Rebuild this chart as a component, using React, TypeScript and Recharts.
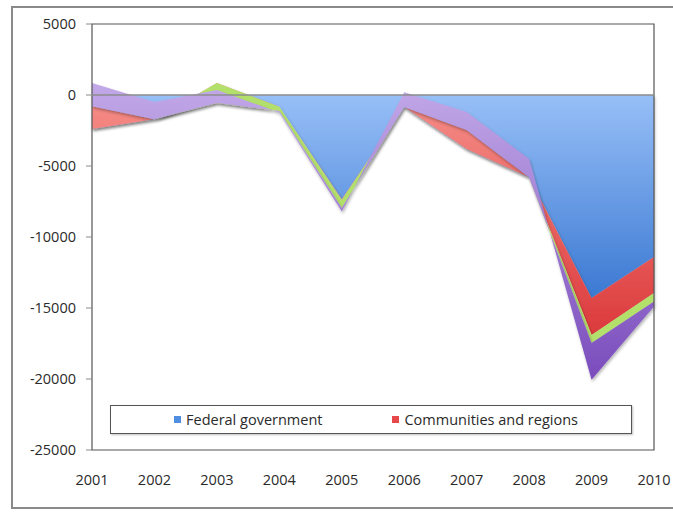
import { Area, AreaChart, ReferenceArea, ReferenceLine, XAxis, YAxis } from "recharts";

const YEARS = ["2001", "2002", "2003", "2004", "2005", "2006", "2007", "2008", "2009", "2010"];
// stacked Excel-style (cumulative, mixed signs)
const FEDERAL = [-2400, -1700, -100, -830, -7350, -850, -3800, -5800, -14300, -11400];
const COMMUNITIES = [1600, 0, 940, 0, -50, 0, 1340, 0, -2600, -2550];
const LOCAL = [0, 0, -1400, -300, -550, 0, 0, 0, -560, -600];
const SOCIAL = [1650, 1210, 910, -100, -250, 1050, 1260, 1300, -2600, -350];
const Y_TICKS = [-25000, -20000, -15000, -10000, -5000, 0, 5000];
const LEGEND_LABELS = ["Federal government", "Communities and regions"];
const LEGEND_COLORS = ["#4f8ee0", "#e8474c"];

const data = YEARS.map((year, i) => ({
  year,
  federal: FEDERAL[i],
  communities: COMMUNITIES[i],
  local: LOCAL[i],
  social: SOCIAL[i],
}));

const FONT = "'Open Sans', 'Liberation Sans', sans-serif";
const TEXT = "#2a2a2a";

export default function App() {
  return (
    <div
      style={{
        position: "absolute",
        left: 0,
        top: 0,
        width: 673,
        height: 512,
        overflow: "hidden",
        background: "#fff",
        fontFamily: FONT,
      }}
    >
      <div
        style={{
          position: "absolute",
          left: 11,
          top: 6,
          width: 700,
          height: 499,
          border: "2px solid #8a8a8a",
        }}
      />
      <AreaChart
        width={673}
        height={512}
        data={data}
        margin={{ top: 24, right: 19, bottom: 0, left: 0 }}
        style={{ position: "absolute", left: 0, top: 0 }}
      >
        <defs>
          <linearGradient id="gBlue" x1="0" y1="0" x2="0" y2="1">
            <stop offset="0%" stopColor="#97bff7" />
            <stop offset="100%" stopColor="#3b79d2" />
          </linearGradient>
          <linearGradient id="gRed" x1="0" y1="0" x2="0" y2="1">
            <stop offset="0%" stopColor="#f7928c" />
            <stop offset="100%" stopColor="#dc3a3c" />
          </linearGradient>
          <linearGradient id="gPurple" x1="0" y1="0" x2="0" y2="1">
            <stop offset="0%" stopColor="#c2a9e8" />
            <stop offset="100%" stopColor="#7a4cbc" />
          </linearGradient>
          <filter id="shadow" x="-10%" y="-10%" width="120%" height="130%">
            <feDropShadow dx="1" dy="2" stdDeviation="1.5" floodColor="#000" floodOpacity="0.3" />
          </filter>
        </defs>
        <XAxis
          dataKey="year"
          height={62}
          tickSize={0}
          tickMargin={25}
          axisLine={false}
          tickLine={false}
          interval={0}
          tick={{ fill: TEXT, fontSize: 14.5, fontFamily: FONT }}
        />
        <YAxis
          width={92}
          domain={[-25000, 5000]}
          ticks={Y_TICKS}
          allowDataOverflow
          axisLine={false}
          tickSize={6}
          tickMargin={10}
          tickLine={{ stroke: "#8a8a8a" }}
          tick={{ fill: TEXT, fontSize: 14.5, fontFamily: FONT }}
        />
        <Area
          type="linear"
          dataKey="federal"
          stackId="a"
          stroke="none"
          fill="url(#gBlue)"
          fillOpacity={1}
          filter="url(#shadow)"
          isAnimationActive={false}
          activeDot={false}
        />
        <Area
          type="linear"
          dataKey="communities"
          stackId="a"
          stroke="none"
          fill="url(#gRed)"
          fillOpacity={1}
          filter="url(#shadow)"
          isAnimationActive={false}
          activeDot={false}
        />
        <Area
          type="linear"
          dataKey="local"
          stackId="a"
          stroke="none"
          fill="#b3e06b"
          fillOpacity={1}
          filter="url(#shadow)"
          isAnimationActive={false}
          activeDot={false}
        />
        <Area
          type="linear"
          dataKey="social"
          stackId="a"
          stroke="none"
          fill="url(#gPurple)"
          fillOpacity={1}
          filter="url(#shadow)"
          isAnimationActive={false}
          activeDot={false}
        />
        <ReferenceLine y={0} stroke="#8c8c8c" strokeWidth={1.5} />
        <ReferenceArea
          x1="2001"
          x2="2010"
          y1={-25000}
          y2={5000}
          fill="none"
          stroke="#555"
          strokeWidth={1.2}
        />
      </AreaChart>
      <div
        style={{
          position: "absolute",
          left: 110,
          top: 405,
          width: 510,
          height: 27,
          paddingLeft: 10,
          boxSizing: "content-box",
          border: "1.5px solid #555",
          boxShadow: "1px 1px 2px rgba(0,0,0,0.25)",
          background: "#fff",
          display: "flex",
          alignItems: "center",
          justifyContent: "center",
          gap: 70,
          fontSize: 14.5,
          color: TEXT,
        }}
      >
        {LEGEND_LABELS.map((label, i) => (
          <span key={label} style={{ display: "flex", alignItems: "center", gap: 5 }}>
            <span style={{ width: 7, height: 7, background: LEGEND_COLORS[i], display: "inline-block" }} />
            {label}
          </span>
        ))}
      </div>
    </div>
  );
}
